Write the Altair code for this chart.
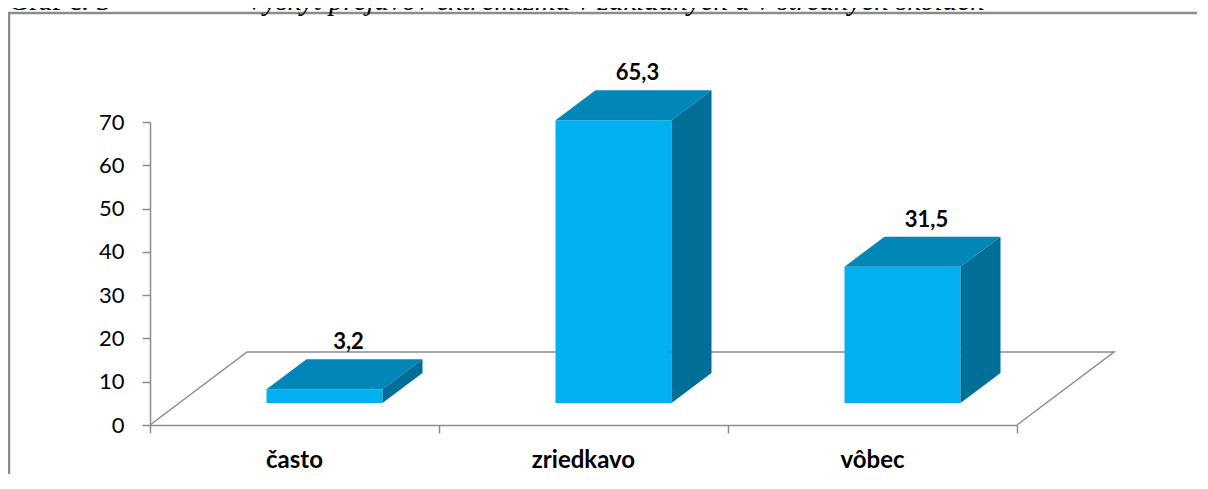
import altair as alt
import pandas as pd

# ---- data ----
categories = ["často", "zriedkavo", "vôbec"]
values = [3.2, 65.3, 31.5]
value_labels = ["3,2", "65,3", "31,5"]
y_ticks = [0, 10, 20, 30, 40, 50, 60, 70]
title_left = "Graf č. 3"
title_right = "Výskyt prejavov extrémizmu v základných a v stredných školách"

# ---- layout / style (pixels) ----
W, H = 867, 303
N = len(categories)
YMAX = 70
ux = N / W          # x data units per pixel
uy = YMAX / H       # y data units per pixel
BAR_W = 116
FRONT_DX, FRONT_DY = 30, 22     # bars set back from the floor front edge
DEPTH_DX, DEPTH_DY = 40, 30     # bar depth
FLOOR_DX, FLOOR_DY = 97, 73     # floor depth

C_FRONT = "#00B0F0"
C_TOP = "#0087B8"
C_SIDE = "#006F98"
C_GRAY = "#8C8C8C"
FONT = "Lato"

front_rows, top_rows, side_rows = [], [], []
for i, (c, v, lab) in enumerate(zip(categories, values, value_labels)):
    xc = i + 0.5 + FRONT_DX * ux
    xl = xc - BAR_W / 2 * ux
    xr = xc + BAR_W / 2 * ux
    yb = FRONT_DY * uy
    yt = v + yb
    ddx, ddy = DEPTH_DX * ux, DEPTH_DY * uy
    front_rows.append(dict(cat=c, xl=xl, xr=xr, yb=yb, yt=yt, xc=xc, lab=lab,
                           xm=i + 0.5))
    top_rows.append(dict(cat=c, y=yt, x=xl, x2=xr))
    top_rows.append(dict(cat=c, y=yt + ddy, x=xl + ddx, x2=xr + ddx))
    side_rows.append(dict(cat=c, x=xr, y=yt, y2=yb))
    side_rows.append(dict(cat=c, x=xr + ddx, y=yt + ddy, y2=yb + ddy))

front_df = pd.DataFrame(front_rows)
top_df = pd.DataFrame(top_rows)
side_df = pd.DataFrame(side_rows)
fdx, fdy = FLOOR_DX * ux, FLOOR_DY * uy
floor_df = pd.DataFrame(dict(
    o=[0, 1, 2, 3],
    x=[0, fdx, N + fdx, N],
    y=[0, fdy, fdy, 0],
))

xs = alt.Scale(domain=[0, N], nice=False, zero=False)
ys = alt.Scale(domain=[0, YMAX], nice=False)

x_axis = alt.Axis(values=list(range(N + 1)), labels=False, title=None, grid=False,
                  tickSize=8, tickColor=C_GRAY, domainColor=C_GRAY,
                  domainWidth=1.5, tickWidth=1.5)
y_axis = alt.Axis(values=y_ticks, title=None, grid=False, tickSize=8,
                  tickColor=C_GRAY, domainColor=C_GRAY, domainWidth=1.5,
                  tickWidth=1.5, labelFont=FONT, labelFontSize=22,
                  labelColor="#000000", labelPadding=18)

floor = alt.Chart(floor_df).mark_line(color=C_GRAY, strokeWidth=1.5).encode(
    x=alt.X("x:Q", scale=xs, axis=x_axis),
    y=alt.Y("y:Q", scale=ys, axis=y_axis),
    order="o:Q",
)

front = alt.Chart(front_df).mark_rect(color=C_FRONT).encode(
    x=alt.X("xl:Q", scale=xs), x2="xr:Q",
    y=alt.Y("yb:Q", scale=ys), y2="yt:Q",
)

top = alt.Chart(top_df).mark_area(color=C_TOP, orient="horizontal").encode(
    y=alt.Y("y:Q", scale=ys, stack=None),
    x=alt.X("x:Q", scale=xs, stack=None), x2="x2:Q",
    detail="cat:N",
)

side = alt.Chart(side_df).mark_area(color=C_SIDE, orient="vertical").encode(
    x=alt.X("x:Q", scale=xs, stack=None),
    y=alt.Y("y:Q", scale=ys, stack=None), y2="y2:Q",
    detail="cat:N",
)

val_text = alt.Chart(front_df).mark_text(
    font=FONT, fontSize=22, fontWeight="bold", color="#000000",
    dx=24, dy=-(DEPTH_DY + 10), baseline="alphabetic",
).encode(
    x=alt.X("xc:Q", scale=xs), y=alt.Y("yt:Q", scale=ys), text="lab:N",
)

cat_text = alt.Chart(front_df).mark_text(
    font=FONT, fontSize=24, fontWeight="bold", color="#000000",
    dy=43, baseline="alphabetic",
).encode(
    x=alt.X("xm:Q", scale=xs), y=alt.datum(0), text="cat:N",
)

one = pd.DataFrame({"a": [0]})
border = alt.Chart(one).mark_rect(fill=None, stroke=C_GRAY, strokeWidth=2.5).encode(
    x=alt.value(-141), x2=alt.value(1400), y=alt.value(-109), y2=alt.value(700),
)
t1 = alt.Chart(one).mark_text(
    font="Liberation Serif", fontSize=29, align="left", baseline="alphabetic",
    color="#000000",
).encode(x=alt.value(-142), y=alt.value(-112), text=alt.value(title_left))
t2 = alt.Chart(one).mark_text(
    font="Liberation Serif", fontSize=29, fontStyle="italic", align="left",
    baseline="alphabetic", color="#000000",
).encode(x=alt.value(96), y=alt.value(-112), text=alt.value(title_right))

chart = alt.layer(floor, front, top, side, val_text, cat_text, border, t1, t2).properties(
    width=W, height=H,
    autosize=alt.AutoSizeParams(type="none"),
    padding={"left": 142, "top": 114, "right": 180, "bottom": 49},
    background="#FFFFFF",
).configure_view(stroke=None)

chart.save("out.html", embed_options={"renderer": "svg", "actions": False})
